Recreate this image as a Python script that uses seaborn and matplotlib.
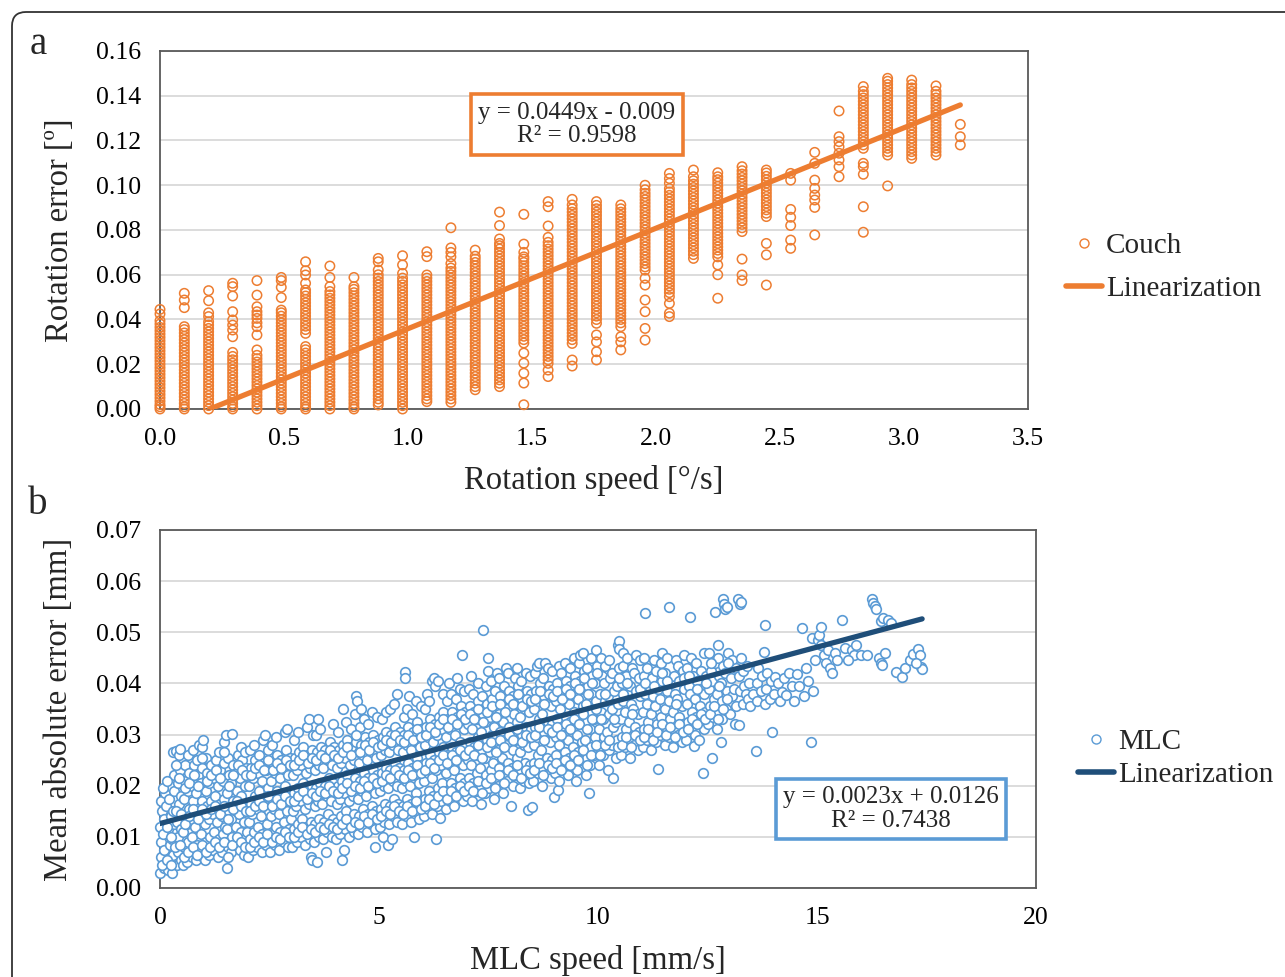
import numpy as np
import pandas as pd
import matplotlib
matplotlib.use("Agg")
import matplotlib.pyplot as plt
import seaborn as sns
from matplotlib.lines import Line2D
from matplotlib.patches import FancyBboxPatch
from matplotlib.transforms import IdentityTransform
from matplotlib.ticker import MultipleLocator, FormatStrFormatter

# ---------------- data : panel a (couch) ----------------
couch_speeds = [0.000, 0.098, 0.196, 0.293, 0.391, 0.489, 0.587, 0.685, 0.782, 0.880,
                0.978, 1.076, 1.173, 1.271, 1.369, 1.467, 1.565, 1.662, 1.760, 1.858,
                1.956, 2.054, 2.151, 2.249, 2.347, 2.445, 2.543, 2.640, 2.738, 2.836,
                2.934, 3.031, 3.129, 3.227]
# rotation errors per speed column, in 1/1000 degree
couch_errors_mdeg = [
    "0 1 2 3.5 5 6.5 8 9.5 11 12.5 14 15.5 17 18.5 20 21.5 23 24.5 26 27.5 29 30.5 32 33.5 35 36.5 38 39.5 42.5 44.5",
    "0 1 2.5 4 5.5 7 8.5 10 11.5 13 14.5 16 17.5 19 20.5 22 23.5 25 26.5 28 29.5 31 32.5 34 35.5 36.8 45.3 48.7 51.7",
    "0 1.5 3 4.5 6 7.5 9 10.5 12 13.5 15 16.5 18 19.5 21 22.5 24 25.5 27 28.5 30 31.5 33 34.5 36 37.5 39 41.3 43 48.4 52.9",
    "0 1 2.5 4 5.5 7 8.5 10 11.5 13 14.5 16 17.5 19 20.5 22 23.5 25.3 32.3 35.3 37.5 39.8 43.5 50.5 54.7 56.2",
    "0 1.5 3 4.5 6 7.5 9 10.5 12 13.5 15 16.5 18 19.5 21 22.5 24 26.4 33.1 36.8 38.5 40.5 42 43.5 45.7 50.9 57.4",
    "0 1 2.5 4 5.5 7 8.5 10 11.5 13 14.5 16 17.5 19 20.5 22 23.5 25 26.5 28 29.5 31 32.5 34 35.5 37 38.5 40 41.5 43 44.2 49.8 54.4 57.4 58.8",
    "0 1 2.5 4 5.5 7 8.5 10 11.5 13 14.5 16 17.5 19 20.5 22 23.5 25 26.5 27.9 33.8 35.5 37 38.5 40 41.5 43 44.5 46 47.5 49 50.5 52 53.2 56.2 59.9 61.8 65.8",
    "0 1.5 3 4.5 6 7.5 9 10.5 12 13.5 15 16.5 18 19.5 21 22.5 24 25.5 27 28.5 30 31.5 33 34.5 36 37.5 39 40.5 42 43.5 45 46.5 48 49.5 51 52.5 54.7 58.8 63.9",
    "0 1 2.5 4 5.5 7 8.5 10 11.5 13 14.5 16 17.5 19 20.5 22 23.5 25 26.5 28 29.5 31 32.5 34 35.5 37 38.5 40 41.5 43 44.5 46 47.5 49 50.5 52 53.5 54.7 58.8",
    "1.8 3 4.5 6 7.5 9 10.5 12 13.5 15 16.5 18 19.5 21 22.5 24 25.5 27 28.5 30 31.5 33 34.5 36 37.5 39 40.5 42 43.5 45 46.5 48 49.5 51 52.5 54 55.5 57 58.5 60 62.1 65.8 67.3",
    "0 1.5 3 4.5 6 7.5 9 10.5 12 13.5 15 16.5 18 19.5 21 22.5 24 25.5 27 28.5 30 31.5 33 34.5 36 37.5 39 40.5 42 43.5 45 46.5 48 49.5 51 52.5 54 55.5 57 58.5 60.6 64.4 68.5",
    "3.3 4.5 6 7.5 9 10.5 12 13.5 15 16.5 18 19.5 21 22.5 24 25.5 27 28.5 30 31.5 33 34.5 36 37.5 39 40.5 42 43.5 45 46.5 48 49.5 51 52.5 54 55.5 57 58.5 59.9 68.1 70.3",
    "3 4.5 6 7.5 9 10.5 12 13.5 15 16.5 18 19.5 21 22.5 24 25.5 27 28.5 30 31.5 33 34.5 36 37.5 39 40.5 42 43.5 45 46.5 48 49.5 51 52.5 54 55.5 57 58.5 60 61.5 63 65 68 70 72 81",
    "8.6 10 11.5 13 14.5 16 17.5 19 20.5 22 23.5 25 26.5 28 29.5 31 32.5 34 35.5 37 38.5 40 41.5 43 44.5 46 47.5 49 50.5 52 53.5 55 56.5 58 59.5 61 62.5 64 65.5 67 68.3 71",
    "10 11.5 13 14.5 16 17.5 19 20.5 22 23.5 25 26.5 28 29.5 31 32.5 34 35.5 37 38.5 40 41.5 43 44.5 46 47.5 49 50.5 52 53.5 55 56.5 58 59.5 61 62.5 64 65.5 67 68.5 70 71.5 73 74 76 82 88",
    "1.9 11.6 16 20.5 25 29.5 31 32.5 34 35.5 37 38.5 40 41.5 43 44.5 46 47.5 49 50.5 52 53.5 55 56.5 58 59.5 61 62.5 64 65.5 67 68 70 73.7 87",
    "14.5 17.4 20.4 22 23.5 25 26.5 28 29.5 31 32.5 34 35.5 37 38.5 40 41.5 43 44.5 46 47.5 49 50.5 52 53.5 55 56.5 58 59.5 61 62.5 64 65.5 67 68.5 70 71.5 73 74.5 76.7 81.8 90.4 92.7",
    "19.2 21.9 29.3 31 32.5 34 35.5 37 38.5 40 41.5 43 44.5 46 47.5 49 50.5 52 53.5 55 56.5 58 59.5 61 62.5 64 65.5 67 68.5 70 71.5 73 74.5 76 77.5 79 80.5 82 83.5 85 86.5 88 89.5 91.2 93.7",
    "21.9 25.6 30 33.1 38.3 40 41.5 43 44.5 46 47.5 49 50.5 52 53.5 55 56.5 58 59.5 61 62.5 64 65.5 67 68.5 70 71.5 73 74.5 76 77.5 79 80.5 82 83.5 85 86.5 88 89.5 91 92.7",
    "26.4 30 32.3 36.8 38.5 40 41.5 43 44.5 46 47.5 49 50.5 52 53.5 55 56.5 58 59.5 61 62.5 64 65.5 67 68.5 70 71.5 73 74.5 76 77.5 79 80.5 82 83.5 85 86.5 88 89.5 91.2",
    "30.8 36 43.5 48.7 55.4 58.4 62.1 63.5 65 66.5 68 69.5 71 72.5 74 75.5 77 78.5 80 81.5 83 84.5 86 87.5 89 90.5 92 93.5 95 96.4 98 100",
    "41.3 42.8 47.2 50.2 52 53.5 55 56.5 58 59.5 61 62.5 64 65.5 67 68.5 70 71.5 73 74.5 76 77.5 79 80.5 82 83.5 85 86.5 88 89.5 91 92.5 94 95.5 97 98.5 100.9 103 105.3",
    "67.3 69 70.5 72 73.5 75 76.5 78 79.5 81 82.5 84 85.5 87 88.5 90 91.5 93 94.5 96 97.5 99 100.5 102 103.8 106.8",
    "49.5 60 64.4 68 69.5 71 72.5 74 75.5 77 78.5 80 81.5 83 84.5 86 87.5 89 90.5 92 93.5 95 96.5 98 99.5 101 102.5 103.8 105.6",
    "57.4 59.9 67 79.3 81 82.5 84 85.5 87 88.5 90 91.5 93 94.5 96 97.5 99 100.5 102 103.5 105 106.5 108.3",
    "55.4 68.9 74 86 87.5 89 90.5 92 93.5 95 96.5 98 99.5 101 102.5 104 105.5 106.8",
    "71.8 75.5 82 85.7 89.2 102.3 105.3",
    "77.8 90.1 93.4 95.6 98.6 102.3 109.8 114.7",
    "103.8 108.3 111.3 114.3 117.2 119.5 121.7 133.2",
    "79 90.4 104.9 108.3 109.8 116.5 118 119.5 121 122.5 124 125.5 127 128.5 130 131.5 133 134.5 136 137.5 139 140.5 142 144.1",
    "99.7 113.5 115 116.5 118 119.5 121 122.5 124 125.5 127 128.5 130 131.5 133 134.5 136 137.5 139 140.5 142 143.5 145 146.5 147.8",
    "112 113.5 115 116.5 118 119.5 121 122.5 124 125.5 127 128.5 130 131.5 133 134.5 136 137.5 139 140.5 142 143.5 145 147",
    "113.5 115 116.5 118 119.5 121 122.5 124 125.5 127 128.5 130 131.5 133 134.5 136 137.5 139 140.5 142 144.4",
    "118 121.7 127.2",
]
couch_slope, couch_intercept, couch_r2 = 0.0449, -0.009, 0.9598

# ---------------- data : panel b (MLC), "speed:error(1/1000 mm)" ----------------
mlc_points_0_3 = """
0.00:3 0.02:6 0.03:9 0.01:12 0.04:15 0.02:17 0.08:4 0.10:7.5 0.12:10.5 0.09:13.5 0.14:16 0.11:18.5
0.18:3.5 0.2:5.5 0.22:8.5 0.19:11.5 0.24:14 0.21:17.5 0.23:20 0.28:3 0.3:6.5 0.27:9.5 0.32:12.5 0.29:15
0.31:19 0.33:22 0.3:26.5 0.36:26.8 0.38:4.5 0.4:7 0.42:10 0.39:13 0.44:16.5 0.41:20.5 0.46:23 0.43:26
0.48:5.5 0.47:11.5 0.49:18 0.45:27.2
0.52:4.5 0.55:8 0.53:11 0.57:14 0.54:17.5 0.58:21 0.56:24 0.62:5 0.64:9 0.61:12.5 0.66:15.5 0.63:19
0.67:22.5 0.65:26 0.72:6 0.74:10 0.71:13.5 0.75:17 0.73:20 0.77:24 0.76:27 0.82:5.5 0.84:8.5 0.81:12
0.86:15 0.83:18.5 0.87:22 0.85:25 0.9:28 0.92:7 0.94:10.5 0.91:14 0.96:17 0.93:20.5 0.97:23.5 0.95:27.5
0.98:29 0.99:6
1.02:5.5 1.05:9 1.03:12.5 1.07:16 1.04:19 1.08:22.5 1.06:25.5 1.12:6.5 1.14:10 1.11:13.5 1.16:17 1.13:20.5
1.17:24 1.22:7.5 1.24:11 1.21:14.5 1.26:18 1.23:21.5 1.27:25 1.32:6 1.34:9.5 1.31:13 1.36:16.5 1.33:20
1.37:23 1.35:26.5 1.42:7 1.44:10.5 1.41:14 1.46:17.5 1.43:21 1.47:24.5 1.45:28.5 1.49:12
1.52:4 1.55:8 1.53:11.5 1.57:15 1.54:18.5 1.58:22 1.56:25.5 1.5:30 1.62:7 1.64:10 1.61:13.5 1.66:17
1.63:20.5 1.67:24 1.65:30.2 1.72:8.5 1.74:12 1.71:15.5 1.76:19 1.73:22.5 1.77:26 1.82:7.5 1.84:11 1.81:14.5
1.86:18 1.83:21.5 1.87:25 1.85:27.5 1.92:6.5 1.94:9.5 1.91:13 1.96:16.5 1.93:20 1.97:23.5 1.95:26.5 1.99:11
2.02:6 2.05:9.5 2.03:13 2.07:16.5 2.04:20 2.08:23.5 2.06:27 2.12:7.5 2.14:11 2.11:14.5 2.16:18 2.13:21.5
2.17:25 2.15:28 2.22:8 2.24:12 2.21:15.5 2.26:19 2.23:22.5 2.27:26 2.32:7 2.34:10.5 2.31:14 2.36:17.5
2.33:21 2.37:24.5 2.35:29 2.42:8.5 2.44:12.5 2.41:16 2.46:19.5 2.43:23 2.47:27 2.4:30 2.49:15
2.52:7 2.55:10.5 2.53:14 2.57:17.5 2.54:21 2.58:24.5 2.56:28 2.62:8.5 2.64:12 2.61:15.5 2.66:19 2.63:22.5
2.67:26 2.65:29.5 2.72:7.5 2.74:11 2.71:14.5 2.76:18 2.73:21.5 2.77:25 2.82:9 2.84:13 2.81:16.5 2.86:20
2.83:23.5 2.87:27 2.85:30.5 2.92:8 2.94:11.5 2.91:15 2.96:18.5 2.93:22 2.97:25.5 2.9:31 2.99:13.5
"""
mlc_points_3_6 = """
3.02:8 3.05:11.5 3.03:15 3.07:18.5 3.04:22 3.08:25.5 3.06:29 3.12:9 3.14:12.5 3.11:16 3.16:19.5 3.13:23
3.17:26.5 3.15:30.5 3.22:10 3.24:13.5 3.21:17 3.26:20.5 3.23:24 3.27:27.5 3.32:8.5 3.34:12 3.31:15.5 3.36:19
3.33:22.5 3.37:26 3.35:31.5 3.4:33 3.42:9.5 3.44:13 3.41:16.5 3.46:20 3.43:23.5 3.47:27 3.45:6 3.48:5.5 3.49:30
3.52:9 3.55:12.5 3.53:16 3.57:19.5 3.54:23 3.58:26.5 3.56:30 3.6:33 3.58:5 3.62:10 3.64:13.5 3.61:17
3.66:20.5 3.63:24 3.67:27.5 3.65:31 3.72:9.5 3.74:13 3.71:16.5 3.76:20 3.73:23.5 3.77:27 3.82:11 3.84:14.5
3.81:18 3.86:21.5 3.83:25 3.87:28.5 3.8:7 3.92:10 3.94:13.5 3.91:17 3.96:20.5 3.93:24 3.97:27.5 3.95:32
4.02:9.5 4.05:13 4.03:16.5 4.07:20 4.04:23.5 4.08:27 4.06:30.5 4.15:5.5 4.2:7.5 4.12:10.5 4.14:14 4.11:17.5
4.16:21 4.13:24.5 4.17:28 4.18:35 4.22:11.5 4.24:15 4.21:18.5 4.26:22 4.23:25.5 4.27:29 4.25:32.5 4.32:10
4.34:13.5 4.31:17 4.36:20.5 4.33:24 4.37:27.5 4.35:31 4.42:11 4.44:14.5 4.41:18 4.46:21.5 4.43:25 4.47:28.5
4.45:34 4.48:37.5 4.49:36.5
4.52:10.5 4.55:14 4.53:17.5 4.57:21 4.54:24.5 4.58:28 4.56:31.5 4.6:35 4.62:12 4.64:15.5 4.61:19 4.66:22.5
4.63:26 4.67:29.5 4.65:33 4.72:11 4.74:14.5 4.71:18 4.76:21.5 4.73:25 4.77:28.5 4.75:32 4.82:12.5 4.84:16
4.81:19.5 4.86:23 4.83:26.5 4.87:30 4.85:34.5 4.92:11.5 4.94:15 4.91:18.5 4.96:22 4.93:25.5 4.97:29 4.95:33.5 4.9:8
5.02:12 5.05:15.5 5.03:19 5.07:22.5 5.04:26 5.08:29.5 5.06:33 5.1:10 5.12:13 5.14:16.5 5.11:20 5.16:23.5
5.13:27 5.17:30.5 5.15:34.5 5.2:8.5 5.22:12.5 5.24:16 5.21:19.5 5.26:23 5.23:26.5 5.27:30 5.25:35 5.32:14
5.34:17.5 5.31:21 5.36:24.5 5.33:28 5.37:31.5 5.35:36 5.3:9.5 5.42:13 5.44:16.5 5.41:20 5.46:23.5 5.43:27
5.47:30.5 5.4:38
5.52:12.5 5.55:16 5.53:19.5 5.57:23 5.54:26.5 5.58:30 5.56:33.5 5.59:42.3 5.6:41 5.62:14 5.64:17.5 5.61:21
5.66:24.5 5.63:28 5.67:31.5 5.65:35 5.68:37.5 5.72:13 5.74:16.5 5.71:20 5.76:23.5 5.73:27 5.77:30.5 5.75:34
5.8:10 5.82:15 5.84:18.5 5.81:22 5.86:25.5 5.83:29 5.87:32.5 5.85:36.5 5.92:13.5 5.94:17 5.91:20.5 5.96:24
5.93:27.5 5.97:31 5.95:35.5
"""
mlc_points_6_10 = """
6.02:14 6.05:17.5 6.03:21 6.07:24.5 6.04:28 6.08:31.5 6.06:35 6.1:38 6.12:15.5 6.14:19 6.11:22.5 6.16:26
6.13:29.5 6.17:33 6.15:36.5 6.2:40.5 6.25:41 6.22:14.5 6.24:18 6.21:21.5 6.26:25 6.23:28.5 6.27:32 6.3:9.5
6.28:39.5 6.32:16 6.34:19.5 6.31:23 6.36:26.5 6.33:30 6.37:33.5 6.35:40.5 6.4:13.7 6.42:17 6.44:20.5 6.41:24
6.46:27.5 6.43:31 6.47:34.5 6.45:38
6.52:15.5 6.55:19 6.53:22.5 6.57:26 6.54:29.5 6.58:33 6.56:36.5 6.6:40 6.62:17 6.64:20.5 6.61:24 6.66:27.5
6.63:31 6.67:34.5 6.65:38 6.72:16 6.74:19.5 6.71:23 6.76:26.5 6.73:30 6.77:33.5 6.75:37 6.78:41 6.82:18
6.84:21.5 6.81:25 6.86:28.5 6.83:32 6.87:35.5 6.85:39 6.9:45.5 6.92:17 6.94:20.5 6.91:24 6.96:27.5 6.93:31
6.97:34.5 6.95:38.5
7.02:18 7.05:21.5 7.03:25 7.07:28.5 7.04:32 7.08:35.5 7.06:39 7.1:41.5 7.12:17 7.14:20.5 7.11:24 7.16:27.5
7.13:31 7.17:34.5 7.15:38 7.22:19 7.24:22.5 7.21:26 7.26:29.5 7.23:33 7.27:36.5 7.25:40 7.32:16.5 7.34:20
7.31:23.5 7.36:27 7.33:30.5 7.37:34 7.35:37.5 7.38:50.5 7.42:18.5 7.44:22 7.41:25.5 7.46:29 7.43:32.5 7.47:36
7.45:39.5 7.49:45 7.48:42.5
7.52:19.5 7.55:23 7.53:26.5 7.57:30 7.54:33.5 7.58:37 7.56:40.5 7.62:17.5 7.64:21 7.61:24.5 7.66:28 7.63:31.5
7.67:35 7.65:38.5 7.7:42 7.72:20 7.74:23.5 7.71:27 7.76:30.5 7.73:34 7.77:37.5 7.75:41 7.82:18.5 7.84:22
7.81:25.5 7.86:29 7.83:32.5 7.87:36 7.85:39.5 7.9:43 7.92:21 7.94:24.5 7.91:28 7.96:31.5 7.93:35 7.97:38.5 7.95:42
8.02:16 8.05:20 8.03:23.5 8.07:27 8.04:30.5 8.08:34 8.06:37.5 8.1:41 8.12:22 8.14:25.5 8.11:29 8.16:32.5
8.13:36 8.17:39.5 8.15:43 8.22:19.5 8.24:23 8.21:26.5 8.26:30 8.23:33.5 8.27:37 8.25:40.5 8.32:21 8.34:24.5
8.31:28 8.36:31.5 8.33:35 8.37:38.5 8.35:42 8.4:15.3 8.42:20.5 8.44:24 8.41:27.5 8.46:31 8.43:34.5 8.47:38
8.45:41.5 8.49:15.8
8.52:21 8.55:24.5 8.53:28 8.57:31.5 8.54:35 8.58:38.5 8.56:42 8.6:43.5 8.62:22.5 8.64:26 8.61:29.5 8.66:33
8.63:36.5 8.67:40 8.65:44 8.72:20 8.74:23.5 8.71:27 8.76:30.5 8.73:34 8.77:37.5 8.75:41 8.78:44 8.82:22
8.84:25.5 8.81:29 8.86:32.5 8.83:36 8.87:39.5 8.85:43 8.92:21.5 8.94:25 8.91:28.5 8.96:32 8.93:35.5 8.97:39 8.95:42.5
9.0:17.8 9.08:19.2 9.02:22.5 9.05:26 9.03:29.5 9.07:33 9.04:36.5 9.06:40 9.1:43.5 9.12:21 9.14:24.5 9.11:28
9.16:31.5 9.13:35 9.17:38.5 9.15:42 9.22:23 9.24:26.5 9.21:30 9.26:33.5 9.23:37 9.27:40.5 9.25:44 9.32:22
9.34:25.5 9.31:29 9.36:32.5 9.33:36 9.37:39.5 9.35:43 9.42:24 9.44:27.5 9.41:31 9.46:34.5 9.43:38 9.47:41.5
9.45:45 9.49:21
9.52:23 9.55:26.5 9.53:30 9.57:33.5 9.54:37 9.58:40.5 9.56:44 9.6:45.5 9.62:25 9.64:28.5 9.61:32 9.66:35.5
9.63:39 9.67:42.5 9.65:46 9.72:22 9.74:25.5 9.71:29 9.76:32.5 9.73:36 9.77:39.5 9.75:43 9.8:18.5 9.82:24
9.84:27.5 9.81:31 9.86:34.5 9.83:38 9.87:41.5 9.85:45 9.92:26 9.94:29.5 9.91:33 9.96:36.5 9.93:40 9.97:43.5 9.95:46.5
"""
mlc_points_10_18 = """
10.02:24 10.05:27.5 10.03:31 10.07:34.5 10.04:38 10.08:41.5 10.06:45 10.12:26 10.14:29.5 10.11:33 10.16:36.5
10.13:40 10.17:43.5 10.22:23 10.24:27 10.21:30.5 10.26:34 10.23:37.5 10.27:41 10.25:44.5 10.35:21.5 10.32:28
10.34:31.5 10.31:35 10.36:38.5 10.33:42 10.42:25.5 10.44:29 10.41:32.5 10.46:36 10.43:39.5 10.47:43 10.45:47.5
10.48:48.3 10.49:46.8
10.52:26 10.55:29.5 10.53:33 10.57:36.5 10.54:40 10.58:43.5 10.56:46 10.62:27.5 10.64:31 10.61:34.5 10.66:38
10.63:41.5 10.67:45 10.72:25.5 10.74:29 10.71:32.5 10.76:36 10.73:39.5 10.77:43 10.82:28 10.84:31.5 10.81:35
10.86:38.5 10.83:42 10.87:45.5 10.92:27 10.94:30.5 10.91:34 10.96:37.5 10.93:41 10.97:44.5
11.07:53.7 11.02:27.5 11.05:31 11.03:34.5 11.08:38 11.04:41.5 11.06:45 11.12:29 11.14:32.5 11.11:36 11.16:39.5
11.13:43 11.22:27 11.24:30.5 11.21:34 11.26:37.5 11.23:41 11.27:44.5 11.32:28.5 11.34:32 11.31:35.5 11.36:39
11.33:42.5 11.38:23.2 11.42:30 11.44:33.5 11.41:37 11.46:40.5 11.43:44 11.47:46
11.63:55 11.52:28 11.55:31.5 11.53:35 11.57:38.5 11.54:42 11.58:45 11.62:29.5 11.64:33 11.61:36.5 11.66:40
11.72:27.5 11.74:31 11.71:34.5 11.76:38 11.73:41.5 11.77:44.5 11.82:30 11.84:33.5 11.81:37 11.86:40.5 11.83:43.5
11.92:28.5 11.94:32 11.91:35.5 11.96:39 11.93:42.5 11.97:45.5
12.1:52.9 12.02:29 12.05:32.5 12.03:36 12.07:39.5 12.04:43 12.12:31 12.14:34.5 12.11:38 12.16:41.5 12.13:45
12.2:27.7 12.22:30 12.24:33.5 12.21:37 12.26:40.5 12.23:44 12.3:29 12.32:32 12.34:35.5 12.31:39 12.36:42.5
12.4:22.4 12.42:31 12.44:34.5 12.41:38 12.46:41.5 12.43:46
12.6:25.5 12.67:54 12.52:32 12.55:35.5 12.53:39 12.57:42.5 12.54:46 12.62:33.5 12.64:37 12.61:40.5 12.66:44
12.72:31 12.74:34.5 12.71:38 12.76:41.5 12.73:45 12.75:47.5 12.8:28.6 12.82:33 12.84:36.5 12.81:40 12.86:43.5
12.85:56.5 12.88:55.5 12.9:54.5 12.92:35 12.94:38.5 12.91:42 12.96:46 12.95:55
13.02:34 13.05:37.5 13.03:41 13.07:44.5 13.12:32 13.14:35.5 13.11:39 13.16:43 13.2:56.5 13.24:55.5 13.26:56
13.22:31.8 13.24:38.5 13.21:41.5 13.27:45 13.32:36 13.34:39.5 13.31:42.5 13.38:38 13.42:37 13.44:40 13.41:43.5 13.46:35.5
13.55:38 13.6:26.7 13.62:36.5 13.64:40 13.66:43 13.72:38.5 13.74:41.5 13.81:51.4 13.8:46.2 13.82:36 13.84:39
13.86:42 13.92:37 13.94:40.5 13.97:30.6
14.02:38 14.05:41.3 14.12:40 14.15:36.5 14.2:38.4 14.25:41 14.3:37.7 14.35:42 14.42:39.5 14.47:36.5
14.55:41.9 14.6:39.5 14.65:50.8 14.7:37.5 14.75:43 14.8:40.5 14.87:28.6 14.88:48.8 14.9:38.5 14.95:44.5
15.02:48.5 15.05:49.5 15.08:51 15.1:47.5 15.15:45.5 15.2:44 15.25:46.5 15.3:43 15.35:42 15.4:46 15.45:44.5
15.56:52.4 15.65:47 15.8:46.5 15.85:45.5 15.9:47.5 16.0:45.5 15.7:44.5
16.25:56.5 16.28:55.8 16.32:55.2 16.35:54.5 16.45:52.2 16.5:52.8 16.42:45 16.45:44 16.48:43.6 16.15:45.5
16.62:52.4 16.7:51.8 16.8:42.3 16.95:41.2 17.0:43 16.55:46
17.12:44.5 17.2:45.8 17.3:46.8 17.35:45.5 17.38:43.2 17.4:42.8 17.25:44
"""
mlc_points_fill = """
0.05:4.5 0.06:10.5 0.07:19.5 0.15:5.5 0.16:12 0.17:21 0.25:4.5 0.26:10 0.35:8 0.36:15 0.37:24 0.46:8.5 0.47:14.5 0.44:21.5
0.55:6 0.56:12.5 0.57:19.5 0.65:7 0.66:14 0.67:20.5 0.75:8 0.76:15.5 0.77:22 0.85:6.5 0.86:13.5 0.87:20 0.95:8.5 0.96:15.5 0.97:25.5
1.05:7 1.06:14.5 1.07:21 1.15:8 1.16:15.5 1.17:22 1.25:9 1.26:16 1.27:23 1.35:8 1.36:14.5 1.37:21.5 1.45:9 1.46:16 1.47:26.5
1.55:6 1.56:13.5 1.57:20 1.65:8.5 1.66:15.5 1.67:22 1.75:10 1.76:17 1.77:24 1.85:9 1.86:16 1.87:23 1.95:8 1.96:15 1.97:22
2.05:8 2.06:15 2.07:22 2.15:9 2.16:16 2.17:23.5 2.25:10 2.26:17 2.27:24 2.35:9 2.36:16 2.37:23 2.45:10.5 2.46:18 2.47:25
2.55:9 2.56:16 2.57:23 2.65:10 2.66:17.5 2.67:24.5 2.75:9.5 2.76:16.5 2.77:23.5 2.85:11 2.86:18 2.87:25 2.95:10 2.96:17 2.97:24
3.05:10 3.06:17 3.07:24 3.15:11 3.16:18 3.17:25 3.25:12 3.26:19 3.27:26 3.35:10.5 3.36:17.5 3.37:24.5 3.45:11.5 3.46:18.5 3.47:25.5
3.55:11 3.56:18 3.57:25 3.65:12 3.66:19 3.67:26 3.75:11.5 3.76:18.5 3.77:25.5 3.85:12.5 3.86:20 3.87:27 3.95:12 3.96:19 3.97:26
4.05:11.5 4.06:18.5 4.07:25.5 4.15:12.5 4.16:19.5 4.17:26.5 4.25:13.5 4.26:20.5 4.27:27.5 4.35:12 4.36:19 4.37:26 4.45:13 4.46:20 4.47:30
4.55:12.5 4.56:19.5 4.57:26.5 4.65:14 4.66:21 4.67:28 4.75:13 4.76:20 4.77:27 4.85:14.5 4.86:21.5 4.87:28.5 4.95:13.5 4.96:20.5 4.97:27.5
5.05:14 5.06:21 5.07:28 5.15:15 5.16:22 5.17:29 5.25:14.5 5.26:21.5 5.27:28.5 5.35:16 5.36:23 5.37:30 5.45:15 5.46:22 5.47:29
5.55:14.5 5.56:21.5 5.57:28.5 5.65:16 5.66:23 5.67:30 5.75:15 5.76:22 5.77:29 5.85:17 5.86:24 5.87:31 5.95:15.5 5.96:22.5 5.97:29.5
6.05:16 6.06:23 6.07:30 6.15:17.5 6.16:24.5 6.17:31.5 6.25:16.5 6.26:23.5 6.27:30.5 6.35:18 6.36:25 6.37:32 6.45:19 6.46:26 6.47:33
6.55:17.5 6.56:24.5 6.57:31.5 6.65:19 6.66:26 6.67:33 6.75:18 6.76:25 6.77:32 6.85:20 6.86:27 6.87:34 6.95:19 6.96:26 6.97:33
7.05:20 7.06:27 7.07:34 7.15:19 7.16:26 7.17:33 7.25:21 7.26:28 7.27:35 7.35:18.5 7.36:25.5 7.37:32.5 7.45:20.5 7.46:27.5 7.47:34.5
7.55:21.5 7.56:28.5 7.57:35.5 7.65:19.5 7.66:26.5 7.67:33.5 7.75:22 7.76:29 7.77:36 7.85:20.5 7.86:27.5 7.87:34.5 7.95:23 7.96:30 7.97:37
8.05:22 8.06:29 8.07:36 8.15:24 8.16:31 8.17:38 8.25:21.5 8.26:28.5 8.27:35.5 8.35:23 8.36:30 8.37:37 8.45:22.5 8.46:29.5 8.47:36.5
8.55:23 8.56:30 8.57:37 8.65:24.5 8.66:31.5 8.67:38.5 8.75:22 8.76:29 8.77:36 8.85:24 8.86:31 8.87:38 8.95:23.5 8.96:30.5 8.97:37.5
9.05:24.5 9.06:31.5 9.07:38.5 9.15:23 9.16:30 9.17:37 9.25:25 9.26:32 9.27:39 9.35:24 9.36:31 9.37:38 9.45:26 9.46:33 9.47:40
9.55:25 9.56:32 9.57:39 9.65:27 9.66:34 9.67:41 9.75:24 9.76:31 9.77:38 9.85:26 9.86:33 9.87:40 9.95:28 9.96:35 9.97:42
10.05:26 10.07:33 10.15:28 10.17:38 10.25:29 10.37:33 10.45:27.5 10.47:41
10.55:28 10.57:38 10.65:29.5 10.67:40 10.75:27.5 10.77:34 10.85:30 10.95:29 10.97:39
11.05:29.5 11.07:40 11.15:31 11.25:29 11.27:39.5 11.35:30.5 11.45:32 11.47:42
11.55:30 11.57:40.5 11.65:31.5 11.75:29.5 11.77:36 11.85:32 11.95:30.5 11.97:41
12.05:31 12.07:41.5 12.15:33 12.25:32 12.27:39 12.35:34 12.45:33 12.47:40
12.55:34 12.57:44 12.65:35.5 12.75:33 12.77:39.5 12.85:35 12.95:37 12.97:44
"""
mlc_slope, mlc_intercept, mlc_r2 = 0.0023, 0.0126, 0.7438

# ---------------- build tables ----------------
rows = []
for spd, col in zip(couch_speeds, couch_errors_mdeg):
    for v in col.split():
        rows.append((spd, float(v) / 1000.0))
couch_df = pd.DataFrame(rows, columns=["speed", "error"])

mrows = []
for chunk in (mlc_points_0_3, mlc_points_3_6, mlc_points_6_10, mlc_points_10_18, mlc_points_fill):
    for tok in chunk.split():
        a, b = tok.split(":")
        mrows.append((float(a), float(b) / 1000.0))
mlc_df = pd.DataFrame(mrows, columns=["speed", "error"])

x0 = -couch_intercept / couch_slope
x1 = couch_df["speed"].max()
couch_fit = pd.DataFrame({"speed": [x0, x1]})
couch_fit["error"] = couch_slope * couch_fit["speed"] + couch_intercept

mlc_fit = pd.DataFrame({"speed": [0.0, mlc_df["speed"].max()]})
mlc_fit["error"] = mlc_slope * mlc_fit["speed"] + mlc_intercept

# ---------------- style ----------------
sns.set_style("white")
plt.rcParams["font.family"] = ["Liberation Serif", "DejaVu Serif"]

ORANGE = "#ED7D31"
LBLUE = "#5B9BD5"
NAVY = "#1F4E79"
SPINE = "#595959"
GRID = "#D9D9D9"
W, H = 1285, 977

fig = plt.figure(figsize=(W / 100, H / 100), dpi=100)
fig.patch.set_facecolor("white")

ax_a = fig.add_axes([160 / W, 1 - 409 / H, 868 / W, 358 / H])
ax_b = fig.add_axes([160 / W, 1 - 888 / H, 876 / W, 358 / H])

# panel a
sns.scatterplot(data=couch_df, x="speed", y="error", ax=ax_a, marker="o", s=46,
                linewidth=1.1, legend=False, clip_on=False, zorder=3)
coll = ax_a.collections[-1]
coll.set_facecolor("none")
coll.set_edgecolor(ORANGE)
sns.lineplot(data=couch_fit, x="speed", y="error", ax=ax_a, color=ORANGE,
             linewidth=3.8, legend=False, zorder=4)

# panel b
sns.scatterplot(data=mlc_df, x="speed", y="error", ax=ax_b, marker="o", s=48,
                linewidth=1.2, legend=False, clip_on=False, zorder=3)
coll = ax_b.collections[-1]
coll.set_facecolor("white")
coll.set_edgecolor(LBLUE)
sns.lineplot(data=mlc_fit, x="speed", y="error", ax=ax_b, color=NAVY,
             linewidth=3.8, legend=False, zorder=4)


def style_axes(ax, xlim, ylim, xstep, ystep, xfmt, yfmt, xlabel, ylabel):
    ax.set_xlim(*xlim)
    ax.set_ylim(*ylim)
    ax.xaxis.set_major_locator(MultipleLocator(xstep))
    ax.yaxis.set_major_locator(MultipleLocator(ystep))
    ax.xaxis.set_major_formatter(FormatStrFormatter(xfmt))
    ax.yaxis.set_major_formatter(FormatStrFormatter(yfmt))
    ax.yaxis.grid(True, color=GRID, linewidth=1.3)
    ax.xaxis.grid(False)
    ax.set_axisbelow(True)
    for sp in ax.spines.values():
        sp.set_color(SPINE)
        sp.set_linewidth(1.3)
        sp.set_visible(True)
    ax.tick_params(axis="both", direction="out", length=5, width=1.2, color=SPINE,
                   labelsize=18.5, labelcolor="black")
    ax.tick_params(axis="x", pad=9)
    ax.tick_params(axis="y", pad=8.5)
    ax.set_xlabel(xlabel, fontsize=23.5)
    ax.set_ylabel(ylabel, fontsize=23.5)


style_axes(ax_a, (0, 3.5), (0, 0.16), 0.5, 0.02, "%.1f", "%.2f",
           "Rotation speed [°/s]", "Rotation error [º]")
style_axes(ax_b, (0, 20), (0, 0.07), 5, 0.01, "%d", "%.2f",
           "MLC speed [mm/s]", "Mean absolute error [mm]")
ax_a.xaxis.set_label_coords(0.5, -0.157)
ax_a.yaxis.set_label_coords(-0.098, 0.5)
ax_b.xaxis.set_label_coords(0.5, -0.16)
ax_b.yaxis.set_label_coords(-0.098, 0.5)

# equation boxes
ax_a.text(0.4804, 0.7947,
          f"y = {couch_slope}x - {abs(couch_intercept)}\nR² = {couch_r2}",
          transform=ax_a.transAxes, ha="center", va="center", fontsize=18,
          linespacing=1.1, multialignment="center", zorder=6,
          bbox=dict(boxstyle="square,pad=0.3", fc="white", ec=ORANGE, lw=2.6))
ax_b.text(0.8345, 0.2207,
          f"y = {mlc_slope}x + {mlc_intercept}\nR² = {mlc_r2}",
          transform=ax_b.transAxes, ha="center", va="center", fontsize=18,
          linespacing=1.1, multialignment="center", zorder=6,
          bbox=dict(boxstyle="square,pad=0.3", fc="white", ec=LBLUE, lw=2.6))

# legends
h_a = [Line2D([], [], ls="none", marker="o", ms=6.5, mfc="none", mec=ORANGE, mew=1.0),
       Line2D([], [], color=ORANGE, lw=4)]
fig.legend(h_a, ["Couch", "Linearization"], loc="center left",
           bbox_to_anchor=(1066 / W, 1 - 267.5 / H), frameon=False, fontsize=21,
           handlelength=1.25, handletextpad=0.12, labelspacing=0.58,
           borderpad=0, borderaxespad=0)
h_b = [Line2D([], [], ls="none", marker="o", ms=6.5, mfc="white", mec=LBLUE, mew=1.0),
       Line2D([], [], color=NAVY, lw=4)]
fig.legend(h_b, ["MLC", "Linearization"], loc="center left",
           bbox_to_anchor=(1078 / W, 1 - 758.5 / H), frameon=False, fontsize=21,
           handlelength=1.25, handletextpad=0.12, labelspacing=0.22,
           borderpad=0, borderaxespad=0)

# panel letters
fig.text(38 / W, 1 - 45 / H, "a", fontsize=28, ha="center", va="center")
fig.text(38 / W, 1 - 505 / H, "b", fontsize=28, ha="center", va="center")

# rounded outer frame
frame = FancyBboxPatch((12, -40), 1400, H - 12 + 40,
                       boxstyle="round,pad=0,rounding_size=14",
                       transform=IdentityTransform(), fill=False,
                       ec="#333333", lw=1.3, clip_on=False)
fig.add_artist(frame)

fig.savefig("out.png", dpi=100, facecolor="white")
